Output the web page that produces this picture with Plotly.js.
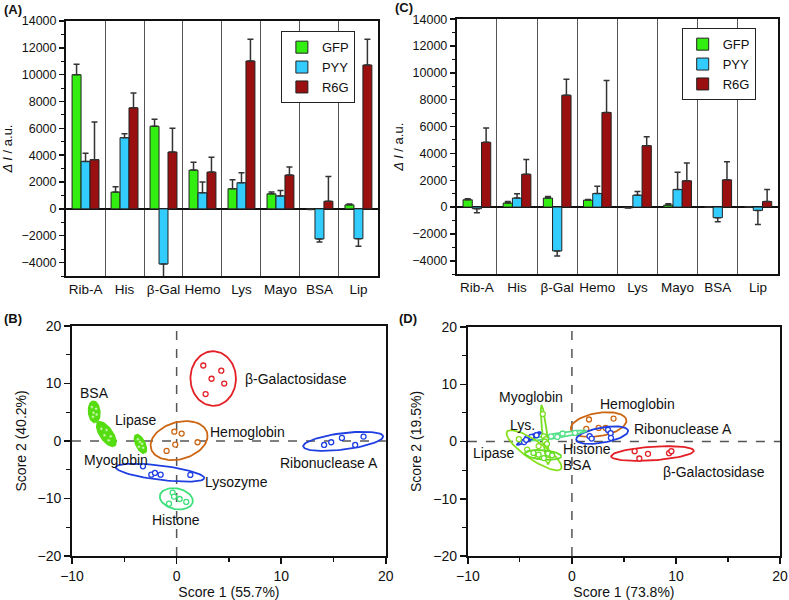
<!DOCTYPE html>
<html>
<head>
<meta charset="utf-8">
<script src="https://cdn.plot.ly/plotly-3.0.1.min.js"></script>
<style>
  body { margin: 0; background: white; }
  #chart { width: 789px; height: 600px; }
</style>
</head>
<body>
<div id="chart"></div>
<script>
// bar charts (A) and (C)
const categories = ["Rib-A", "His", "β-Gal", "Hemo", "Lys", "Mayo", "BSA", "Lip"];
const seriesNames = ["GFP", "PYY", "R6G"];

const gfpA = [10000, 1250, 6160, 2890, 1500, 1120, -30, 300];
const gfpAErr = [770, 400, 520, 580, 670, 130, 20, 60];
const pyyA = [3540, 5310, -4110, 1200, 1950, 970, -2240, -2220];
const pyyAErr = [600, 280, 950, 800, 740, 400, 230, 570];
const r6gA = [3670, 7530, 4240, 2740, 11020, 2520, 570, 10720];
const r6gAErr = [2810, 1100, 1770, 1100, 1620, 600, 1850, 1920];

const gfpC = [545, 300, 670, 520, -50, 150, 10, 20];
const gfpCErr = [80, 120, 120, 50, 20, 100, 0, 10];
const pyyC = [-120, 670, -3270, 1010, 890, 1310, -790, -250];
const pyyCErr = [300, 320, 370, 550, 270, 1290, 300, 1040];
const r6gC = [4830, 2450, 8340, 7050, 4580, 1960, 2030, 420];
const r6gCErr = [1060, 1090, 1190, 2380, 670, 1330, 1340, 890];

// PCA score plots (B) and (D)
const bNames = ["β-Galactosidase", "Hemoglobin", "Ribonuclease A", "Lysozyme", "Histone", "BSA", "Lipase", "Myoglobin"];
const bX = [
  [2.55, 4.27, 3.34, 4.55, 2.77],
  [-0.22, 0.48, -0.13, 2.0, -0.96],
  [14.1, 14.78, 15.8, 17.07, 17.87],
  [-3.22, -2.42, -2.07, -1.53, 1.31],
  [-0.38, -0.25, 0.29, 0.92, -0.73],
  [-8.1, -7.7, -7.95, -7.65, -8.0],
  [-7.2, -6.7, -6.9, -6.3, -6.5],
  [-3.7, -3.5, -3.3, -3.6, -3.2]
];
const bY = [
  [13.1, 12.2, 10.8, 9.97, 8.14],
  [1.6, 1.28, -0.64, -0.23, -1.74],
  [-0.7, -0.23, 0.52, -0.7, 0.75],
  [-4.41, -5.86, -5.57, -5.86, -5.91],
  [-8.99, -9.68, -10.09, -10.6, -10.9],
  [5.9, 5.6, 4.9, 4.6, 4.2],
  [2.1, 1.9, 1.0, 0.8, 0.1],
  [0.3, -0.2, -0.5, -1.0, -1.2]
];
const bLabelX = [11.37, 6.75, 14.52, 5.7, -0.03, -7.87, -3.92, -5.76];
const bLabelY = [10.8, 1.62, -3.88, -7.07, -13.7, 8.4, 3.65, -3.36];

const dNames = ["β-Galactosidase", "Hemoglobin", "Ribonuclease A", "Histone", "Lys.", "Myoglobin", "Lipase", "BSA"];
const dX = [
  [6.03, 6.48, 7.31, 9.34, 9.56],
  [1.64, 4.0, 1.38, 2.57, 3.24],
  [1.7, 1.9, 3.47, 3.72, 3.75],
  [-2.6, -2.0, -1.4, -0.9, 0.3],
  [-4.6, -4.3, -3.9, -3.4, -4.4],
  [-2.8, -2.7, -2.5, -2.6, -2.4],
  [-5.1, -4.3, -3.2, -3.3, -2.3],
  [-3.7, -3.2, -2.7, -2.3, -1.9]
];
const dY = [
  [-1.69, -2.97, -2.15, -2.03, -1.69],
  [3.84, 4.0, 2.2, 2.38, 2.38],
  [0.93, 0.52, 2.03, 1.45, 0.64],
  [0.7, 0.9, 0.8, 1.4, 1.5],
  [-0.1, 0.6, 0.8, 1.1, 0.3],
  [4.8, 0.9, 0.4, 0.0, -0.4],
  [0.4, -1.4, -0.8, -2.6, -3.2],
  [-2.0, -2.3, -2.9, -2.1, -2.4]
];
const dLabelX = [13.67, 6.35, 10.65, 1.41, -4.72, -3.91, -7.57, 0.51];
const dLabelY = [-5.35, 6.57, 2.2, -1.3, 2.97, 7.73, -1.98, -4.1];

// styles
const barColors = ["#33ee11", "#33ccff", "#9a0f0f"];
const bColors = ["#e31e24", "#cc6612", "#1f3fe0", "#1f3fe0", "#3de07a", "#55dd11", "#55dd11", "#55dd11"];
const bFilled = [false, false, false, false, false, true, true, true];
const dColors = ["#e31e24", "#cc6612", "#1f3fe0", "#55e08a", "#1f3fe0", "#77dd22", "#88e020", "#66dd22"];

function errBars(vals, errs) {
  return {
    type: "data", symmetric: false,
    array: vals.map((v, i) => v >= 0 ? errs[i] : 0),
    arrayminus: vals.map((v, i) => v < 0 ? errs[i] : 0),
    color: "#333", thickness: 1.5, width: 3
  };
}

// 95% confidence ellipse from the group's points
function ellipse(xs, ys) {
  const n = xs.length;
  const mx = xs.reduce((a, b) => a + b, 0) / n;
  const my = ys.reduce((a, b) => a + b, 0) / n;
  let sxx = 0, syy = 0, sxy = 0;
  for (let i = 0; i < n; i++) {
    sxx += (xs[i] - mx) ** 2;
    syy += (ys[i] - my) ** 2;
    sxy += (xs[i] - mx) * (ys[i] - my);
  }
  sxx /= n - 1; syy /= n - 1; sxy /= n - 1;
  const tr = sxx + syy, det = sxx * syy - sxy * sxy;
  const disc = Math.sqrt(Math.max(tr * tr / 4 - det, 0));
  const l1 = tr / 2 + disc, l2 = Math.max(tr / 2 - disc, 1e-4);
  const th = 0.5 * Math.atan2(2 * sxy, sxx - syy);
  const k = 2.4477;
  const a = k * Math.sqrt(l1), b = k * Math.sqrt(l2);
  const ex = [], ey = [];
  for (let j = 0; j <= 80; j++) {
    const t = 2 * Math.PI * j / 80;
    ex.push(mx + a * Math.cos(t) * Math.cos(th) - b * Math.sin(t) * Math.sin(th));
    ey.push(my + a * Math.cos(t) * Math.sin(th) + b * Math.sin(t) * Math.cos(th));
  }
  return [ex, ey];
}

const traces = [];

[[gfpA, gfpAErr], [pyyA, pyyAErr], [r6gA, r6gAErr]].forEach(([v, e], i) => {
  traces.push({
    type: "bar", x: categories, y: v, name: seriesNames[i], xaxis: "x", yaxis: "y",
    legend: "legend", marker: {color: barColors[i], line: {color: "#222", width: 1}},
    error_y: errBars(v, e)
  });
});
[[gfpC, gfpCErr], [pyyC, pyyCErr], [r6gC, r6gCErr]].forEach(([v, e], i) => {
  traces.push({
    type: "bar", x: categories, y: v, name: seriesNames[i], xaxis: "x2", yaxis: "y2",
    legend: "legend2", marker: {color: barColors[i], line: {color: "#222", width: 1}},
    error_y: errBars(v, e)
  });
});

function addScores(xs, ys, colors, filled, xa, ya) {
  xs.forEach((gx, i) => {
    const isFilled = filled && filled[i];
    const [ex, ey] = ellipse(gx, ys[i]);
    traces.push({
      type: "scatter", mode: "lines", x: ex, y: ey, xaxis: xa, yaxis: ya,
      line: {color: colors[i], width: isFilled ? 3 : 1.8}, showlegend: false, hoverinfo: "skip",
      fill: isFilled ? "toself" : "none", fillcolor: colors[i]
    });
    traces.push({
      type: "scatter", mode: "markers", x: gx, y: ys[i], xaxis: xa, yaxis: ya,
      marker: {symbol: "circle", size: isFilled ? 3 : 5, color: isFilled ? "#c8f5b0" : "white",
               line: {color: colors[i], width: isFilled ? 0.6 : 1.3}},
      showlegend: false
    });
  });
}
addScores(bX, bY, bColors, bFilled, "x3", "y3");
addScores(dX, dY, dColors, null, "x4", "y4");

function barX(domain, anchor) {
  return {
    domain: domain, anchor: anchor, type: "category", tickson: "boundaries",
    showgrid: true, gridcolor: "#555", gridwidth: 1, ticks: "", tickangle: 0,
    showline: true, mirror: true, linecolor: "#111", linewidth: 2,
    tickfont: {size: 13.5}, zeroline: false
  };
}
function barY(domain, anchor) {
  return {
    domain: domain, anchor: anchor, range: [-5000, 14000], dtick: 2000, tick0: 0,
    tickformat: "d",
    ticks: "outside", ticklen: 5, tickwidth: 1.5, tickcolor: "#111",
    minor: {dtick: 1000, tick0: 0, ticks: "outside", ticklen: 3, tickwidth: 1, tickcolor: "#111"},
    showline: true, mirror: true, linecolor: "#111", linewidth: 2,
    zeroline: true, zerolinecolor: "#111", zerolinewidth: 2, showgrid: false,
    tickfont: {size: 12.5},
    title: {text: "<i>Δ I</i> / a.u.", font: {size: 13}, standoff: 6}
  };
}
function scoreX(domain, anchor, title) {
  return {
    domain: domain, anchor: anchor, range: [-10, 20], dtick: 10, tick0: 0,
    ticks: "outside", ticklen: 6, tickwidth: 1.5, tickcolor: "#111",
    minor: {dtick: 5, tick0: 0, ticks: "outside", ticklen: 4, tickwidth: 1.2, tickcolor: "#111"},
    showline: true, mirror: true, linecolor: "#111", linewidth: 2,
    zeroline: false, showgrid: false, tickfont: {size: 14},
    title: {text: title, font: {size: 14}, standoff: 4}
  };
}
function scoreY(domain, anchor, title) {
  return {
    domain: domain, anchor: anchor, range: [-20, 20], dtick: 10, tick0: 0,
    ticks: "outside", ticklen: 6, tickwidth: 1.5, tickcolor: "#111",
    minor: {dtick: 5, tick0: 0, ticks: "outside", ticklen: 4, tickwidth: 1.2, tickcolor: "#111"},
    showline: true, mirror: true, linecolor: "#111", linewidth: 2,
    zeroline: false, showgrid: false, tickfont: {size: 14},
    title: {text: title, font: {size: 14}, standoff: 8}
  };
}

const dash = {color: "#555", width: 1.5, dash: "dash"};
const shapes = [
  {type: "line", xref: "x3", yref: "y3 domain", x0: 0, x1: 0, y0: 0, y1: 1, line: dash, layer: "below"},
  {type: "line", xref: "x3 domain", yref: "y3", x0: 0, x1: 1, y0: 0, y1: 0, line: dash, layer: "below"},
  {type: "line", xref: "x4", yref: "y4 domain", x0: 0, x1: 0, y0: 0, y1: 1, line: dash, layer: "below"},
  {type: "line", xref: "x4 domain", yref: "y4", x0: 0, x1: 1, y0: 0, y1: 0, line: dash, layer: "below"}
];

const annotations = [];
[["(A)", 2, 9], ["(C)", 393, 8], ["(B)", 2, 318], ["(D)", 397, 318]].forEach(([t, px, py]) => {
  annotations.push({
    text: "<b>" + t + "</b>", xref: "paper", yref: "paper", x: px / 789, y: 1 - py / 600,
    xanchor: "left", yanchor: "middle", showarrow: false, font: {size: 13}
  });
});
bNames.forEach((t, i) => annotations.push({
  text: t, xref: "x3", yref: "y3", x: bLabelX[i], y: bLabelY[i], showarrow: false, font: {size: 14}
}));
dNames.forEach((t, i) => annotations.push({
  text: t, xref: "x4", yref: "y4", x: dLabelX[i], y: dLabelY[i], showarrow: false, font: {size: 14}
}));

const legendStyle = {
  xanchor: "left", yanchor: "top", bordercolor: "#222", borderwidth: 1, bgcolor: "white",
  font: {size: 13}, tracegroupgap: 0, itemwidth: 30
};

const layout = {
  width: 789, height: 600,
  margin: {l: 0, r: 0, t: 0, b: 0},
  paper_bgcolor: "white", plot_bgcolor: "white",
  font: {family: "Arial, 'Liberation Sans', sans-serif", size: 13, color: "#111"},
  barmode: "group", bargap: 0.31, bargroupgap: 0,
  showlegend: true,
  legend: Object.assign({x: 0.356, y: 0.948}, legendStyle),
  legend2: Object.assign({x: 0.864, y: 0.953}, legendStyle),
  xaxis: barX([0.0837, 0.479], "y"),
  yaxis: barY([0.54, 0.965], "x"),
  xaxis2: barX([0.579, 0.986], "y2"),
  yaxis2: barY([0.543, 0.968], "x2"),
  xaxis3: scoreX([0.0913, 0.489], "y3", "Score 1 (55.7%)"),
  yaxis3: scoreY([0.0733, 0.457], "x3", "Score 2 (40.2%)"),
  xaxis4: scoreX([0.593, 0.9886], "y4", "Score 1 (73.8%)"),
  yaxis4: scoreY([0.0733, 0.455], "x4", "Score 2 (19.5%)"),
  shapes: shapes,
  annotations: annotations
};

Plotly.newPlot("chart", traces, layout, {displayModeBar: false, staticPlot: true});
</script>
</body>
</html>
